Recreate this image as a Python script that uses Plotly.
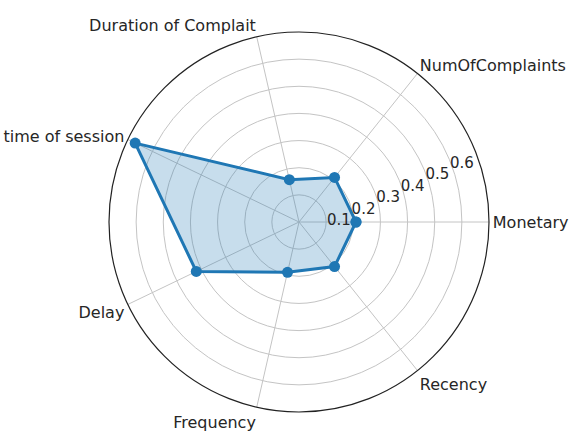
import plotly.graph_objects as go

# Radar profile of customer features
categories = ["Monetary", "NumOfComplaints", "Duration of Complait",
              "time of session", "Delay", "Frequency", "Recency"]
values = [0.21, 0.21, 0.16, 0.67, 0.42, 0.19, 0.21]
radial_ticks = [0.1, 0.2, 0.3, 0.4, 0.5, 0.6]

# close the polygon
theta = categories + categories[:1]
r = values + values[:1]

W, H = 587, 438
cx, cy, rad = 299, 222, 190

fig = go.Figure()
fig.add_trace(go.Scatterpolar(
    r=r, theta=theta,
    mode="lines+markers",
    fill="toself",
    fillcolor="rgba(31,119,180,0.25)",
    line=dict(color="#1f77b4", width=3),
    marker=dict(color="#1f77b4", size=11),
    showlegend=False,
))

fig.update_layout(
    width=W, height=H,
    margin=dict(l=0, r=0, t=0, b=0),
    paper_bgcolor="white",
    font=dict(family="DejaVu Sans", size=16, color="#262626"),
    polar=dict(
        domain=dict(x=[(cx - rad) / W, (cx + rad) / W],
                    y=[(H - cy - rad) / H, (H - cy + rad) / H]),
        bgcolor="white",
        angularaxis=dict(
            type="category",
            categoryorder="array",
            categoryarray=categories,
            rotation=0,
            direction="counterclockwise",
            showline=True,
            linecolor="#222222",
            linewidth=1.2,
            gridcolor="#c4c4c4",
            gridwidth=1,
            ticks="",
            tickfont=dict(size=16),
        ),
        radialaxis=dict(
            range=[0, 0.7],
            tickvals=radial_ticks,
            ticktext=[f"{v:.1f}" for v in radial_ticks],
            angle=25,
            tickangle=25,
            showline=False,
            ticks="",
            gridcolor="#c4c4c4",
            gridwidth=1,
            tickfont=dict(size=15),
        ),
    ),
)

fig.write_html("out.html")
